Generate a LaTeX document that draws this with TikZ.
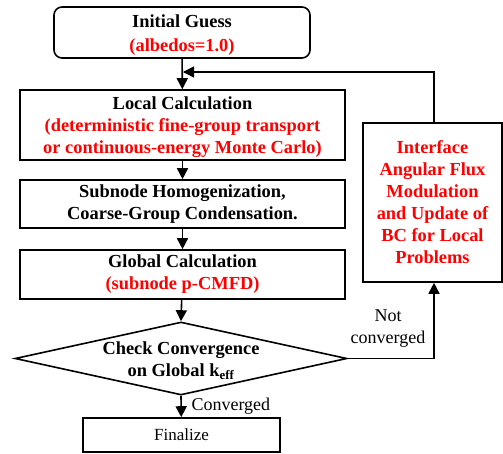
\documentclass[tikz,border=0pt]{standalone}
\usepackage{fontspec}
\setmainfont{Liberation Serif}
\usetikzlibrary{shapes.geometric,arrows.meta}
\definecolor{myred}{RGB}{255,0,0}
\begin{document}
\begin{tikzpicture}[x=1pt,y=-1pt,
  box/.style={draw,line width=1.6pt,align=center,inner sep=0pt,font=\bfseries\fontsize{18.4}{22}\selectfont},
  flow/.style={line width=1.6pt,-{Triangle[length=11pt,width=11pt]}},
  plain/.style={line width=1.6pt},
  lbl/.style={font=\fontsize{18}{22}\selectfont,align=center}]
\useasboundingbox (0,0) rectangle (503,453);
\node[draw,line width=1.6pt,rounded corners=8pt,minimum width=256pt,minimum height=51pt] (init) at (182,32.5) {};
\node[font=\bfseries\fontsize{18.4}{24}\selectfont,align=center] (initt) at (182,35.5)
  {Initial Guess\\\textcolor{myred}{(albedos=1.0)}};
\node[box,minimum width=325pt,minimum height=70pt] (local) at (182.5,125)
  {};
\node[font=\bfseries\fontsize{18.4}{22}\selectfont,align=center] (localt) at (182.5,127)
  {Local Calculation\\\textcolor{myred}{(deterministic fine-group transport}\\\textcolor{myred}{or continuous-energy Monte Carlo)}};
\node[box,minimum width=325pt,minimum height=48pt] (sub) at (182.5,204)
  {Subnode Homogenization,\\Coarse-Group Condensation.};
\node[box,minimum width=325pt,minimum height=49pt] (glob) at (182.5,274.5)
  {Global Calculation\\\textcolor{myred}{(subnode p-CMFD)}};
\node[box,diamond,aspect=4.55,minimum width=332pt,minimum height=73pt] (chk) at (181,358.5) {};
\node[font=\bfseries\fontsize{18.4}{22}\selectfont,align=center] (chkt) at (181,361)
  {Check Convergence\\on Global k\textsubscript{eff}};
\node[draw,line width=1.6pt,minimum width=197pt,minimum height=34pt,inner sep=0pt,font=\fontsize{17}{20}\selectfont] (fin) at (181.5,435) {Finalize};
\node[box,minimum width=139pt,minimum height=159pt,text=myred] (bc) at (432.5,202.5)
  {Interface\\Angular Flux\\Modulation\\and Update of\\BC for Local\\Problems};
\coordinate (top) at (434,72);
\coordinate (join) at (182,72);
\coordinate (corner) at (434,358.5);
\draw[flow] (init) -- (local);
\draw[flow] (local) -- (sub);
\draw[flow] (sub) -- (glob);
\draw[flow] (glob) -- (chk.north);
\draw[flow] (chk.south) -- (fin);
\draw[plain] (bc.north -| top) -- (top) -- ([xshift=2pt]join);
\draw[flow] (top) -- ([xshift=1pt]join);
\draw[plain] (chk.east) -- (corner);
\draw[flow] (corner) -- (bc.south -| corner);
\node[lbl] (nc) at (388,329) {Not\\converged};
\node[lbl,anchor=west] (cv) at (188,406) {Converged};
\end{tikzpicture}
\end{document}
